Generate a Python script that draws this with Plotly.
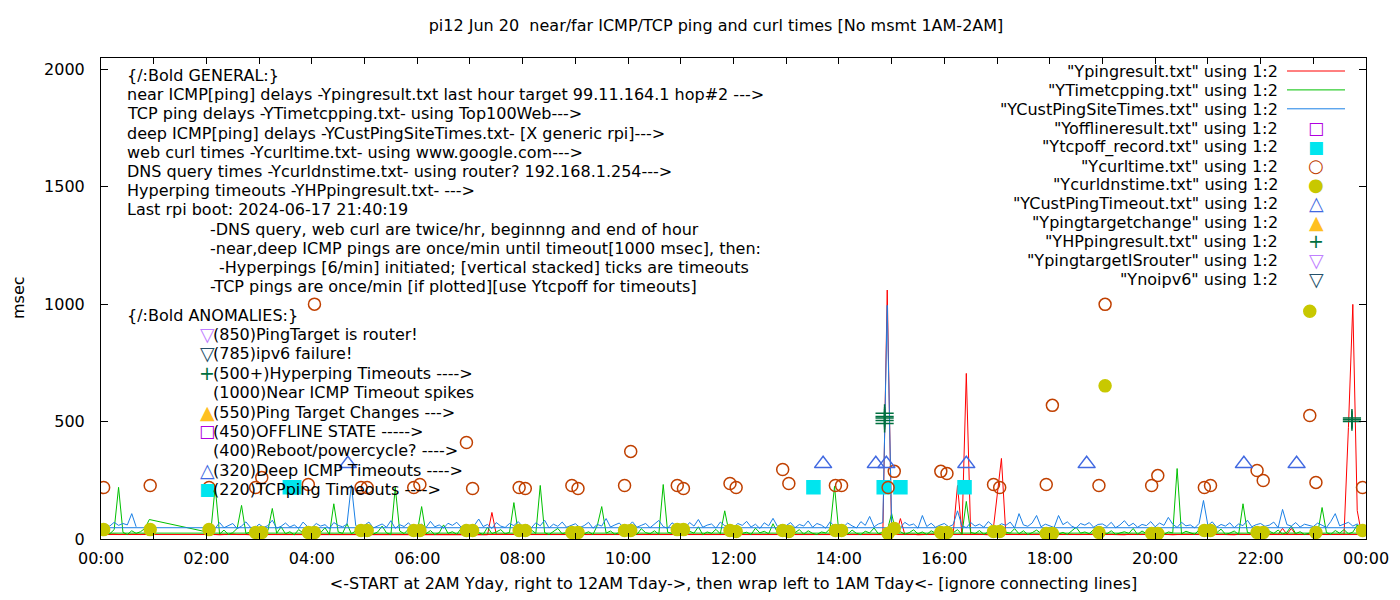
import pandas as pd
import plotly.graph_objects as go

DAY = pd.Timestamp("2024-06-20")

# sample clock in minutes after midnight: 5-min steps from 02:00 yday to 23:55,
# then the files wrap to today's 0-1AM block
YDAY_MIN = list(range(120, 1440, 5))
TDAY_MIN = list(range(0, 60, 5))

# near ICMP ping delays (Ypingresult.txt), one row per hour 02..23
PING_YDAY = [
    [19, 20, 19, 18, 20, 19, 21, 19, 20, 19, 18, 20],
    [20, 19, 19, 21, 19, 20, 18, 19, 20, 21, 19, 19],
    [19, 20, 18, 19, 20, 19, 19, 21, 20, 19, 20, 18],
    [20, 19, 21, 19, 18, 20, 19, 20, 19, 19, 21, 20],
    [19, 18, 20, 19, 21, 19, 20, 19, 18, 20, 19, 21],
    [20, 19, 19, 20, 18, 113, 19, 20, 21, 19, 20, 19],
    [19, 21, 20, 19, 19, 20, 18, 19, 20, 21, 19, 20],
    [18, 20, 19, 21, 20, 19, 19, 20, 18, 19, 21, 19],
    [20, 19, 18, 20, 19, 21, 20, 19, 19, 20, 18, 19],
    [19, 20, 21, 19, 20, 18, 19, 21, 20, 19, 20, 19],
    [21, 19, 20, 18, 19, 20, 19, 19, 21, 20, 19, 18],
    [19, 20, 19, 21, 18, 19, 20, 20, 19, 18, 21, 19],
    [20, 18, 19, 20, 21, 19, 19, 20, 18, 20, 19, 1060],
    [20, 19, 87, 19, 21, 20, 18, 19, 20, 19, 21, 19],
    [19, 20, 19, 228, 20, 705, 19, 21, 19, 20, 18, 19],
    [181, 343, 20, 19, 21, 19, 20, 18, 19, 20, 19, 21],
    [19, 20, 18, 19, 20, 21, 19, 19, 20, 18, 19, 20],
    [20, 19, 21, 20, 19, 18, 20, 19, 21, 19, 20, 19],
    [19, 21, 19, 20, 18, 19, 20, 21, 19, 20, 19, 18],
    [20, 19, 20, 19, 21, 19, 18, 20, 19, 21, 20, 19],
    [19, 20, 18, 21, 19, 45, 20, 45, 19, 20, 21, 19],
    [20, 19, 21, 19, 20, 18, 19, 20, 475, 999, 121, 19],
]
PING_TDAY = [19, 20, 19, 21, 19, 20, 18, 19, 20, 19, 21, 19]

# TCP ping delays (YTimetcpping.txt)
TCP_YDAY = [
    [25, 32, 224, 21, 38, 19, 27, 45, 143, 23, 30, 20],
    [28, 19, 36, 130, 24, 52, 22, 31, 18, 40, 26, 21],
    [33, 20, 27, 48, 19, 150, 30, 24, 65, 22, 35, 18],
    [24, 38, 21, 30, 55, 26, 19, 220, 34, 23, 42, 20],
    [29, 138, 22, 36, 19, 27, 60, 24, 31, 20, 45, 26],
    [21, 34, 27, 19, 50, 23, 30, 40, 22, 28, 155, 25],
    [30, 20, 38, 24, 228, 27, 19, 33, 45, 22, 29, 21],
    [26, 40, 22, 31, 19, 58, 138, 25, 34, 20, 28, 36],
    [23, 30, 19, 44, 27, 22, 35, 20, 232, 29, 24, 38],
    [28, 21, 33, 25, 52, 19, 30, 24, 41, 22, 120, 27],
    [20, 36, 24, 29, 19, 46, 26, 33, 22, 65, 28, 21],
    [31, 23, 27, 40, 20, 35, 24, 19, 30, 26, 44, 224],
    [25, 30, 21, 38, 24, 19, 33, 26, 47, 22, 29, 36],
    [108, 24, 31, 20, 27, 39, 22, 30, 19, 35, 25, 28],
    [21, 33, 26, 40, 19, 160, 28, 23, 36, 20, 30, 24],
    [32, 20, 29, 25, 44, 22, 35, 19, 27, 38, 24, 30],
    [23, 37, 21, 28, 19, 33, 50, 25, 30, 22, 41, 26],
    [29, 22, 35, 20, 27, 31, 24, 45, 19, 34, 23, 28],
    [36, 24, 19, 30, 26, 300, 22, 33, 28, 20, 39, 25],
    [22, 31, 27, 42, 20, 25, 34, 19, 150, 28, 23, 37],
    [27, 20, 33, 24, 38, 21, 29, 55, 23, 31, 19, 26],
    [30, 23, 134, 27, 20, 36, 25, 40, 22, 29, 60, 25],
]
TCP_TDAY = [25, 30, 22, 40, 220, 28, 19, 35, 24, 31, 45, 83]
TCP_TAIL_MIN = [118]
TCP_TAIL = [32]

# deep ICMP ping delays (YCustPingSiteTimes.txt)
CUST_YDAY = [
    [52, 61, 45, 70, 48, 58, 66, 44, 55, 73, 50, 47],
    [63, 49, 57, 80, 46, 54, 68, 51, 60, 45, 72, 53],
    [48, 66, 55, 61, 44, 70, 58, 52, 63, 230, 57, 46],
    [59, 72, 47, 55, 64, 50, 78, 45, 61, 53, 69, 48],
    [56, 63, 49, 75, 52, 60, 46, 67, 58, 71, 50, 62],
    [47, 58, 85, 53, 62, 45, 70, 55, 49, 66, 57, 74],
    [52, 61, 48, 69, 56, 80, 47, 63, 54, 72, 50, 58],
    [65, 49, 57, 71, 46, 62, 55, 87, 51, 60, 68, 47],
    [54, 73, 50, 58, 66, 48, 62, 79, 53, 45, 69, 56],
    [61, 47, 70, 55, 83, 50, 59, 64, 46, 72, 57, 52],
    [49, 66, 58, 75, 51, 63, 45, 69, 56, 88, 54, 61],
    [57, 70, 48, 62, 55, 77, 50, 66, 59, 46, 73, 53],
    [62, 51, 68, 56, 47, 74, 58, 96, 52, 64, 70, 995],
    [60, 55, 49, 71, 58, 64, 46, 100, 53, 67, 50, 59],
    [66, 52, 61, 120, 57, 48, 70, 55, 63, 50, 74, 58],
    [51, 65, 58, 72, 47, 108, 60, 54, 68, 100, 52, 63],
    [57, 49, 100, 61, 73, 55, 46, 66, 59, 70, 50, 62],
    [64, 53, 71, 48, 60, 78, 55, 67, 50, 62, 57, 74],
    [52, 68, 58, 92, 63, 49, 71, 56, 60, 47, 66, 164],
    [58, 73, 50, 62, 55, 69, 48, 64, 57, 80, 52, 61],
    [66, 54, 59, 72, 48, 126, 61, 55, 70, 51, 63, 57],
    [53, 68, 60, 49, 75, 108, 56, 62, 71, 55, 64, 48],
]
CUST_TDAY = [48, 62, 55, 71, 58, 66, 60, 108, 52]

# curl / dns runs: twice an hour, just after and just before the hour
CURL_MIN = [3, 56, 123, 176, 183, 236, 243, 296, 303, 356, 363, 416, 423, 476,
            483, 536, 543, 596, 603, 656, 663, 716, 723, 776, 783, 836, 843, 896,
            903, 956, 963, 1016, 1023, 1076, 1083, 1136, 1143, 1196, 1203, 1256,
            1263, 1316, 1323, 1376, 1383, 1436]
CURL_MS = [219, 228, 219, 219, 262, 232, 1000, 219, 219, 219, 232, 411, 215, 219,
           215, 228, 215, 228, 373, 228, 215, 236, 219, 296, 236, 228, 228, 219,
           288, 288, 279, 232, 219, 232, 569, 228, 999, 228, 270, 219, 228, 292,
           249, 526, 241, 219]
DNS_MS = [40, 40, 40, 28, 28, 28, 28, 36, 36, 36, 36, 36, 36, 36,
          36, 28, 28, 36, 36, 40, 40, 36, 32, 36, 32, 36, 36, 23,
          45, 28, 28, 32, 32, 23, 23, 28, 652, 23, 23, 36, 36, 28,
          28, 970, 28, 36]

# timeout records
TCPOFF_MIN = [215, 220, 811, 891, 910, 983]
TCPOFF_MS = [220, 220, 220, 220, 220, 220]
CUSTTO_MIN = [281, 822, 882, 894, 985, 1122, 1301, 1361]
CUSTTO_MS = [320, 320, 320, 320, 320, 320, 320, 320]
HP_MIN = [892, 892, 892, 892, 892, 1424, 1424, 1424]
HP_MS = [492, 505, 515, 522, 535, 500, 508, 515]
OFFLINE_MIN, OFFLINE_MS = [], []
TARGETCHG_MIN, TARGETCHG_MS = [], []
ISROUTER_MIN, ISROUTER_MS = [], []
NOIPV6_MIN, NOIPV6_MS = [], []

TITLE = "pi12 Jun 20 \u00a0near/far ICMP/TCP ping and curl times [No msmt 1AM-2AM]"
XLABEL = ("&lt;-START at 2AM Yday, right to 12AM Tday-&gt;, then wrap left to 1AM Tday&lt;- "
          "[ignore connecting lines]")
YLABEL = "msec"

GENERAL_LINES = [
    "{/:Bold GENERAL:}",
    "near ICMP[ping] delays -Ypingresult.txt last hour target 99.11.164.1 hop#2 ---&gt;",
    "TCP ping delays -YTimetcpping.txt- using Top100Web---&gt;",
    "deep ICMP[ping] delays -YCustPingSiteTimes.txt- [X generic rpi]---&gt;",
    "web curl times -Ycurltime.txt- using www.google.com---&gt;",
    "DNS query times -Ycurldnstime.txt- using router? 192.168.1.254---&gt;",
    "Hyperping timeouts -YHPpingresult.txt- ---&gt;",
    "Last rpi boot: 2024-06-17 21:40:19",
    "-DNS query, web curl are twice/hr, beginnng and end of hour",
    "-near,deep ICMP pings are once/min until timeout[1000 msec], then:",
    "-Hyperpings [6/min] initiated; [vertical stacked] ticks are timeouts",
    "-TCP pings are once/min [if plotted][use Ytcpoff for timeouts]",
]
GENERAL_INDENT = [130, 130, 130, 130, 130, 130, 130, 130, 213, 213, 222, 213]

ANOMALY_HEAD = "{/:Bold ANOMALIES:}"
ANOMALY_LINES = [
    "(850)PingTarget is router!",
    "(785)ipv6 failure!",
    "(500+)Hyperping Timeouts ----&gt;",
    "(1000)Near ICMP Timeout spikes",
    "(550)Ping Target Changes ---&gt;",
    "(450)OFFLINE STATE -----&gt;",
    "(400)Reboot/powercycle? ----&gt;",
    "(320)Deep ICMP Timeouts ----&gt;",
    "(220)TCPping Timeouts ----&gt;",
]
ANOMALY_KEYS = [("\u25bd", "#c080ff", 19), ("\u25bd", "#25506a", 19), ("+", "#007040", 19),
                ("", "black", 16), ("\u25b2", "#ffc020", 19), ("\u25a1", "#b000e0", 17),
                ("", "black", 16), ("\u25b3", "#4169e1", 19), ("\u25a0", "#00e5ee", 17)]

# the page puts the figure 8px in from the window corner
PAGE_PAD = 8
W, H = 1400 - PAGE_PAD, 600 - PAGE_PAD
# plot frame in window pixels
FRAME_L, FRAME_R, FRAME_T, FRAME_B = 101, 1366, 58, 539
# annotation boxes still pad their text a little
TEXT_PAD = 3
FONT = "DejaVu Sans"


def at(minutes):
    return DAY + pd.to_timedelta(minutes, unit="min")


def flat(rows):
    return [v for row in rows for v in row]


def paper_x(px):
    return (px - FRAME_L) / (FRAME_R - FRAME_L)


def paper_y(py):
    return (FRAME_B - py) / (FRAME_B - FRAME_T)


fig = go.Figure()

lines = [
    ('"Ypingresult.txt" using 1:2', YDAY_MIN + TDAY_MIN, flat(PING_YDAY) + PING_TDAY, "#ff0000"),
    ('"YTimetcpping.txt" using 1:2', YDAY_MIN + TDAY_MIN + TCP_TAIL_MIN,
     flat(TCP_YDAY) + TCP_TDAY + TCP_TAIL, "#00c000"),
    ('"YCustPingSiteTimes.txt" using 1:2', YDAY_MIN + TDAY_MIN[:len(CUST_TDAY)],
     flat(CUST_YDAY) + CUST_TDAY, "#1a80e6"),
]
for name, mins, vals, color in lines:
    fig.add_trace(go.Scatter(x=at(mins), y=vals, mode="lines", name=name,
                             line=dict(color=color, width=1)))

points = [
    ('"Yofflineresult.txt" using 1:2', OFFLINE_MIN, OFFLINE_MS, "square-open", 12, "#b000e0"),
    ('"Ytcpoff_record.txt" using 1:2', TCPOFF_MIN, TCPOFF_MS, "square", 13, "#00e5ee"),
    ('"Ycurltime.txt" using 1:2', CURL_MIN, CURL_MS, "circle-open", 12, "#c04000"),
    ('"Ycurldnstime.txt" using 1:2', CURL_MIN, DNS_MS, "circle", 12, "#c8c800"),
    ('"YCustPingTimeout.txt" using 1:2', CUSTTO_MIN, CUSTTO_MS, "triangle-up-open", 15, "#4169e1"),
    ('"Ypingtargetchange" using 1:2', TARGETCHG_MIN, TARGETCHG_MS, "triangle-up", 15, "#ffc020"),
    ('"YHPpingresult.txt" using 1:2', HP_MIN, HP_MS, "cross-thin", 13, "#007040"),
    ('"YpingtargetISrouter" using 1:2', ISROUTER_MIN, ISROUTER_MS, "triangle-down-open", 15, "#c080ff"),
    ('"Ynoipv6" using 1:2', NOIPV6_MIN, NOIPV6_MS, "triangle-down-open", 15, "#25506a"),
]
for name, mins, vals, symbol, size, color in points:
    fig.add_trace(go.Scatter(x=at(mins), y=vals, mode="markers", name=name,
                             marker=dict(symbol=symbol, size=size, color=color,
                                         line=dict(color=color, width=1.5))))

annotations = []
shapes = []


def label(px, py, text, color="black", size=16, anchor="left", height=None, angle=0):
    shift = {"left": -TEXT_PAD, "right": TEXT_PAD, "center": 0}[anchor]
    annotations.append(dict(x=paper_x(px + shift), y=paper_y(py), xref="paper", yref="paper",
                            text=text, showarrow=False, xanchor=anchor, yanchor="middle",
                            height=height, textangle=angle, borderpad=0, borderwidth=0,
                            font=dict(family=FONT, size=size, color=color)))


# gnuplot style key: right aligned text, sample to the right of it
key_glyph = {"square-open": ("\u25a1", 17), "square": ("\u25a0", 17),
             "circle-open": ("\u25cb", 18), "circle": ("\u25cf", 18),
             "triangle-up-open": ("\u25b3", 19), "triangle-up": ("\u25b2", 19),
             "cross-thin": ("+", 19), "triangle-down-open": ("\u25bd", 19)}
key_rows = [(n, c, None) for n, _, _, c in lines] + [(n, c, s) for n, _, _, s, _, c in points]
for i, (name, color, symbol) in enumerate(key_rows):
    row = 71 + i * 18.9
    label(1275, row, name, anchor="right", height=20)
    if symbol is None:
        shapes.append(dict(type="line", xref="paper", yref="paper",
                           x0=paper_x(1287), x1=paper_x(1345), y0=paper_y(row), y1=paper_y(row),
                           line=dict(color=color, width=1)))
    else:
        glyph, gsize = key_glyph[symbol]
        label(1316, row, glyph, color=color, size=gsize, anchor="center")

for i, (text, indent) in enumerate(zip(GENERAL_LINES, GENERAL_INDENT)):
    label(indent, 75 + i * 19.2, text, height=20)

label(130, 315, ANOMALY_HEAD, height=20)
for i, (text, (glyph, color, gsize)) in enumerate(zip(ANOMALY_LINES, ANOMALY_KEYS)):
    row = 334 + i * 19.4
    label(216, row, text, height=20)
    if glyph:
        label(207, row, glyph, color=color, size=gsize, anchor="center")

label(18, 298, YLABEL, anchor="center", angle=-90)

axis_common = dict(showline=True, linecolor="black", linewidth=1, mirror="ticks",
                   ticks="inside", tickcolor="black", showgrid=False, zeroline=False,
                   tickfont=dict(family=FONT, size=16, color="black"))

fig.update_layout(
    width=W, height=H,
    margin=dict(l=FRAME_L - PAGE_PAD, r=W - (FRAME_R - PAGE_PAD),
                t=FRAME_T - PAGE_PAD, b=H - (FRAME_B - PAGE_PAD)),
    paper_bgcolor="white", plot_bgcolor="white",
    showlegend=False,
    title=dict(text=TITLE, x=(716 - PAGE_PAD) / W, xref="container", xanchor="center",
               y=1 - (25 - PAGE_PAD) / H, yref="container", yanchor="middle",
               font=dict(family=FONT, size=16, color="black")),
    xaxis=dict(axis_common, type="date", range=[at(0), at(1440)], dtick=7200000,
               tick0=at(0), tickformat="%H:%M", ticklen=6, ticklabelstandoff=5,
               minor=dict(dtick=3600000, ticks="inside", ticklen=6, tickcolor="black"),
               title=dict(text=XLABEL, standoff=10,
                          font=dict(family=FONT, size=16, color="black"))),
    yaxis=dict(axis_common, range=[0, 2048], dtick=500, ticklen=7, ticklabelstandoff=12),
    annotations=annotations,
    shapes=shapes,
)

fig.write_html("out.html")
